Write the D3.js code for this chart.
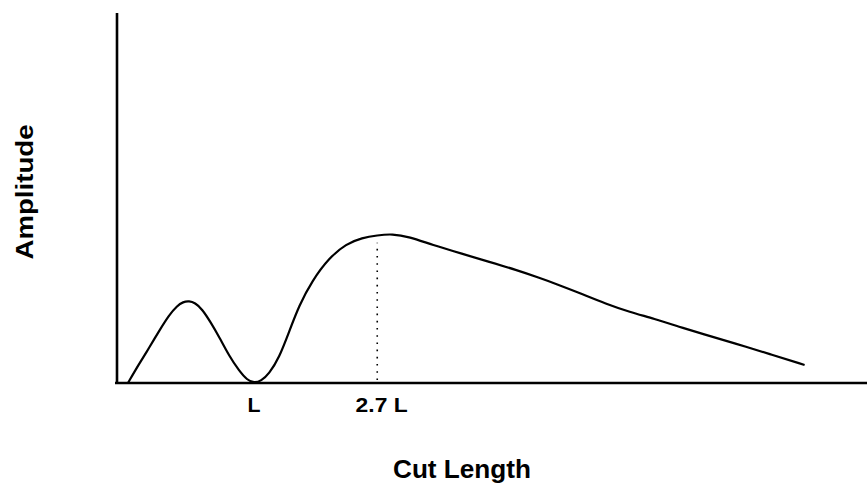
<!DOCTYPE html>
<html>
<head>
<meta charset="utf-8">
<script src="https://cdn.jsdelivr.net/npm/d3@7"></script>
<style>
  html, body { margin: 0; padding: 0; background: #fff; }
  svg { display: block; }
  text { font-family: "Liberation Sans", Arial, sans-serif; font-weight: bold; fill: #000; }
</style>
</head>
<body>
<svg id="chart" width="867" height="486"></svg>
<script>
// Cut length (in units where the trough is at L = 1)
const cutLength = [0.080, 0.161, 0.234, 0.307, 0.380, 0.438, 0.482, 0.526, 0.569, 0.620, 0.686, 0.745, 0.818, 0.891, 0.949, 1.000, 1.051, 1.109, 1.182, 1.255, 1.328, 1.423, 1.547, 1.672, 1.788, 1.898, 2.007, 2.131, 2.299, 2.518, 2.715, 2.912, 3.080, 3.204, 3.372, 3.569, 3.737, 3.920, 4.102, 4.270, 4.518, 4.759, 5.015];
// Amplitude (relative to the main peak)
const amplitude = [0.000, 0.128, 0.235, 0.349, 0.456, 0.517, 0.544, 0.550, 0.537, 0.497, 0.403, 0.309, 0.181, 0.081, 0.020, 0.000, 0.013, 0.062, 0.168, 0.343, 0.520, 0.685, 0.839, 0.933, 0.973, 0.990, 1.000, 0.980, 0.926, 0.866, 0.812, 0.758, 0.705, 0.664, 0.604, 0.530, 0.477, 0.430, 0.376, 0.329, 0.262, 0.195, 0.121];
// Tick marks on the cut-length axis
const tickValues = [1.0, 1.93];
const tickLabels = ["L", "2.7 L"];
// Dotted marker at the main peak
const markerX = [1.898];
const markerTop = [0.94];

const svg = d3.select("#chart");
const x = d3.scaleLinear().domain([0, 5.47]).range([117, 867]);
const y = d3.scaleLinear().domain([0, 2.48]).range([383, 13]);

// curve
const pts = cutLength.map((c, i) => [c, amplitude[i]]);
const line = d3.line().x(d => x(d[0])).y(d => y(d[1])).curve(d3.curveBasis);
svg.append("path").datum(pts)
  .attr("d", line)
  .attr("fill", "none")
  .attr("stroke", "#000")
  .attr("stroke-width", 2.2)
  .attr("stroke-linejoin", "round");

// dotted marker
svg.selectAll("line.marker").data(markerX).enter().append("line")
  .attr("class", "marker")
  .attr("x1", d => x(d)).attr("x2", d => x(d))
  .attr("y1", y(0) - 3).attr("y2", (d, i) => y(markerTop[i]))
  .attr("stroke", "#000")
  .attr("stroke-width", 1.6)
  .attr("stroke-dasharray", "1.6,5.6");

// axes lines
svg.append("line")
  .attr("x1", x(0)).attr("x2", x(0))
  .attr("y1", y(2.48)).attr("y2", y(0) + 1)
  .attr("stroke", "#000").attr("stroke-width", 2.6);
svg.append("line")
  .attr("x1", x(0) - 2).attr("x2", x(5.47))
  .attr("y1", y(0)).attr("y2", y(0))
  .attr("stroke", "#000").attr("stroke-width", 2.6);

// tick labels
const tickW = [13, 52];
svg.selectAll("text.tick").data(tickValues).enter().append("text")
  .attr("class", "tick")
  .attr("x", d => x(d))
  .attr("y", 412)
  .attr("text-anchor", "middle")
  .attr("font-size", 21)
  .attr("textLength", (d, i) => tickW[i])
  .attr("lengthAdjust", "spacingAndGlyphs")
  .text((d, i) => tickLabels[i]);

// axis titles
svg.append("text")
  .attr("x", 462).attr("y", 478)
  .attr("text-anchor", "middle")
  .attr("font-size", 25)
  .attr("textLength", 138)
  .attr("lengthAdjust", "spacingAndGlyphs")
  .text("Cut Length");

svg.append("text")
  .attr("transform", "translate(33,192) rotate(-90)")
  .attr("text-anchor", "middle")
  .attr("font-size", 23)
  .attr("textLength", 135)
  .attr("lengthAdjust", "spacingAndGlyphs")
  .text("Amplitude");
</script>
</body>
</html>
